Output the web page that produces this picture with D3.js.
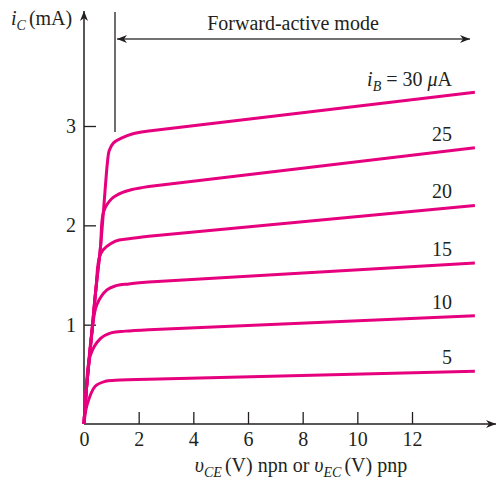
<!DOCTYPE html>
<html><head><meta charset="utf-8">
<script src="https://cdn.jsdelivr.net/npm/d3@7"></script>
<style>body{margin:0;background:#fff}svg{display:block}text{font-family:"Liberation Serif","Times New Roman",serif;fill:#231f20}</style>
</head><body>
<svg id="c" width="497" height="480"></svg>
<script>
// Data (v in volts, i in mA)
const xTicks = [0, 2, 4, 6, 8, 10, 12];
const yTicks = [1, 2, 3];
const curve5  = [[0,0],[0.11,0.19],[0.41,0.38],[0.78,0.43],[1.15,0.44],[2.37,0.45],[14.3,0.53]];
const curve10 = [[0,0],[0.07,0.29],[0.23,0.69],[0.6,0.86],[1.02,0.92],[1.51,0.935],[2.37,0.95],[14.3,1.09]];
const curve15 = [[0,0],[0.07,0.29],[0.29,0.93],[0.47,1.2],[0.84,1.35],[1.15,1.39],[1.64,1.41],[2.37,1.43],[14.3,1.62]];
const curve20 = [[0,0],[0.07,0.29],[0.29,0.93],[0.44,1.37],[0.62,1.72],[1.15,1.84],[1.64,1.865],[2.37,1.89],[14.3,2.2]];
const curve25 = [[0,0],[0.07,0.29],[0.29,0.93],[0.44,1.37],[0.6,1.77],[0.72,2.14],[1.02,2.27],[1.39,2.33],[1.76,2.36],[2.37,2.39],[14.3,2.78]];
const curve30 = [[0,0],[0.07,0.29],[0.29,0.93],[0.44,1.37],[0.6,1.77],[0.72,2.17],[0.86,2.64],[0.92,2.75],[1.08,2.83],[1.39,2.88],[1.76,2.92],[2.37,2.95],[14.3,3.34]];
const curves = [curve5, curve10, curve15, curve20, curve25, curve30];
const curveLabels = ["5", "10", "15", "20", "25"];

const svg = d3.select("#c");
const ink = "#231f20", mag = "#e6007e";
const FS = "20px", SUB = "14px";
const x = d3.scaleLinear().domain([0, 12]).range([84, 412]);
const y = d3.scaleLinear().domain([0, 3]).range([424, 126]);

// arrow marker
const defs = svg.append("defs");
defs.append("marker").attr("id","ah").attr("viewBox","0 0 10 10").attr("refX",10).attr("refY",5)
  .attr("markerWidth",11).attr("markerHeight",10).attr("markerUnits","userSpaceOnUse").attr("orient","auto-start-reverse")
  .append("path").attr("d","M0,1 L10,5 L0,9 L3,5 Z").attr("fill", ink);

// axes
const gx = svg.append("g").attr("transform","translate(0,424)")
  .call(d3.axisBottom(x).tickValues(xTicks).tickFormat(d3.format("d")).tickSizeInner(-12).tickSizeOuter(0).tickPadding(8));
const gy = svg.append("g").attr("transform","translate(84,0)")
  .call(d3.axisLeft(y).tickValues(yTicks).tickFormat(d3.format("d")).tickSizeInner(-12).tickSizeOuter(0).tickPadding(8));
[gx, gy].forEach(g => {
  g.select(".domain").remove();
  g.selectAll("line").attr("stroke", ink).attr("stroke-width", 1.3);
  g.selectAll("text").style("font-size",FS).attr("fill", ink).style("font-family","'Liberation Serif',serif");
});
gx.selectAll(".tick").filter(d => d === 0).select("line").remove();
svg.append("line").attr("x1",84).attr("y1",424).attr("x2",496).attr("y2",424)
  .attr("stroke",ink).attr("stroke-width",1.5).attr("marker-end","url(#ah)");
svg.append("line").attr("x1",84).attr("y1",424).attr("x2",84).attr("y2",11)
  .attr("stroke",ink).attr("stroke-width",1.5).attr("marker-end","url(#ah)");

// forward-active marker
svg.append("line").attr("x1",115).attr("y1",12).attr("x2",115).attr("y2",132).attr("stroke",ink).attr("stroke-width",1.3);
svg.append("line").attr("x1",117).attr("y1",39).attr("x2",470).attr("y2",39).attr("stroke","#444").attr("stroke-width",1.3)
  .attr("marker-start","url(#ah)").attr("marker-end","url(#ah)");
svg.append("text").attr("x",293).attr("y",30).attr("text-anchor","middle").style("font-size",FS).text("Forward-active mode");

// curves: smooth knee, straight active region
const knee = d3.line().x(d => x(d[0])).y(d => y(d[1])).curve(d3.curveCatmullRom.alpha(0.5));
svg.append("g").selectAll("path").data(curves).join("path")
  .attr("d", d => {
    const last = d[d.length - 1];
    return knee(d.slice(0, -1)) + "L" + x(last[0]) + "," + y(last[1]);
  })
  .attr("fill","none").attr("stroke", mag).attr("stroke-width", 3).attr("stroke-linecap","butt").attr("stroke-linejoin","round");

// curve labels
svg.append("g").selectAll("text").data(curveLabels).join("text")
  .attr("x", 452).attr("y", (d,i) => y(curves[i][curves[i].length-1][1]) - 7).attr("text-anchor","end")
  .style("font-size",FS).text(d => d);
const t30 = svg.append("text").attr("x",452).attr("y",86).attr("text-anchor","end").style("font-size",FS);
t30.append("tspan").style("font-style","italic").text("i");
t30.append("tspan").style("font-style","italic").style("font-size",SUB).attr("dy",5).text("B");
t30.append("tspan").attr("dy",-5).text(" = 30 ");
t30.append("tspan").style("font-style","italic").text("μ");
t30.append("tspan").text("A");

// axis titles
const ty = svg.append("text").attr("x",11).attr("y",25).style("font-size",FS);
ty.append("tspan").style("font-style","italic").text("i");
ty.append("tspan").style("font-style","italic").style("font-size",SUB).attr("dy",5).text("C");
ty.append("tspan").attr("dy",-5).attr("dx",3).text("(mA)");

const tx = svg.append("text").attr("x",301).attr("y",472).attr("text-anchor","middle").style("font-size",FS);
tx.append("tspan").style("font-style","italic").text("υ");
tx.append("tspan").style("font-style","italic").style("font-size",SUB).attr("dy",5).text("CE");
tx.append("tspan").attr("dy",-5).attr("dx",3).text("(V) npn or ");
tx.append("tspan").style("font-style","italic").text("υ");
tx.append("tspan").style("font-style","italic").style("font-size",SUB).attr("dy",5).text("EC");
tx.append("tspan").attr("dy",-5).attr("dx",3).text("(V) pnp");
</script>
</body></html>
